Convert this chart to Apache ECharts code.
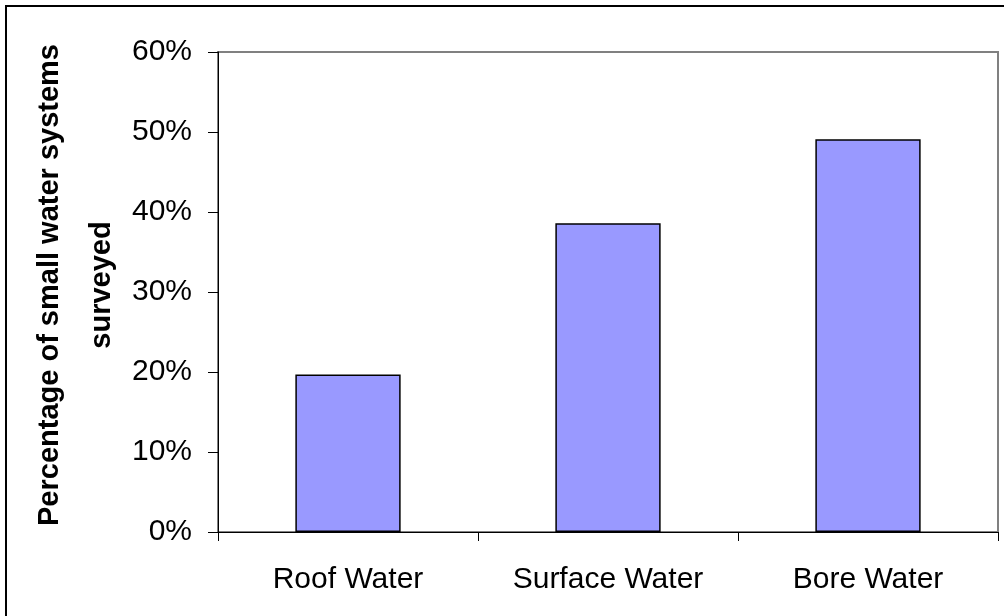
<!DOCTYPE html>
<html>
<head>
<meta charset="utf-8">
<script src="https://cdn.jsdelivr.net/npm/echarts@6/dist/echarts.min.js"></script>
<style>
html,body{margin:0;padding:0;background:#fff;}
#chart{width:1004px;height:616px;}
</style>
</head>
<body>
<div id="chart"></div>
<script>
const categories = ['Roof Water', 'Surface Water', 'Bore Water'];
const values = [0.197, 0.386, 0.491];
const yTitle = 'Percentage of small water systems\nsurveyed';

const chart = echarts.init(document.getElementById('chart'), null, {renderer: 'canvas'});
const font = 'Liberation Sans, Arial, sans-serif';
chart.setOption({
  animation: false,
  backgroundColor: '#fff',
  grid: {left: 218, right: 6, top: 52, bottom: 84, show: true, borderColor: '#808080', borderWidth: 2, backgroundColor: 'transparent'},
  xAxis: {
    type: 'category',
    data: categories,
    axisLine: {show: true, lineStyle: {color: '#000', width: 1}},
    axisTick: {show: true, length: 9, lineStyle: {color: '#000'}, alignWithLabel: false},
    axisLabel: {color: '#000', fontFamily: font, fontSize: 30, margin: 33},
    splitLine: {show: false}
  },
  yAxis: {
    type: 'value',
    min: 0, max: 0.6, interval: 0.1,
    axisLine: {show: true, lineStyle: {color: '#000', width: 1}},
    axisTick: {show: true, length: 10, lineStyle: {color: '#000'}},
    axisLabel: {color: '#000', fontFamily: font, fontSize: 30, margin: 26,
      formatter: v => Math.round(v * 100) + '%'},
    splitLine: {show: false}
  },
  series: [{
    type: 'bar',
    data: values,
    barWidth: '40.5%',
    itemStyle: {color: '#9999FF', borderColor: '#000', borderWidth: 1.5}
  }],
  graphic: [
    {type: 'rect', shape: {x: 6, y: 6, width: 1010, height: 620}, style: {fill: 'none', stroke: '#000', lineWidth: 2}, silent: true},
    {type: 'text', x: 76, y: 285, rotation: Math.PI / 2,
     style: {text: yTitle, font: 'bold 29px Liberation Sans, Arial, sans-serif', fill: '#000', align: 'center', verticalAlign: 'middle', lineHeight: 52}}
  ]
});
</script>
</body>
</html>
